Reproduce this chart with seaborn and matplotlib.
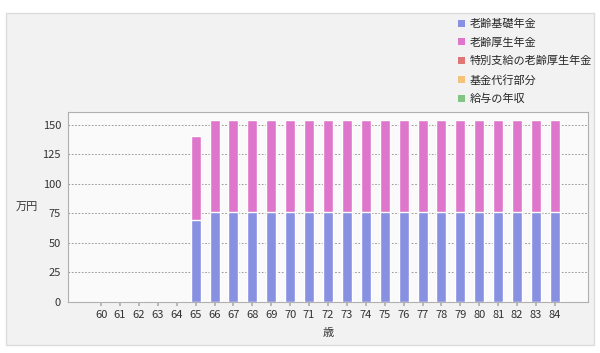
import pandas as pd
import seaborn as sns
import matplotlib.pyplot as plt
from matplotlib.patches import Rectangle, Patch

ages = [str(a) for a in range(60, 85)]
kiso = [0, 0, 0, 0, 0, 69.6] + [76.0] * 19
kosei = [0, 0, 0, 0, 0, 71.0] + [77.8] * 19
tokubetsu = [0] * 25
kikin = [0] * 25
kyuyo = [0] * 25

series_names = ["老齢基礎年金", "老齢厚生年金", "特別支給の老齢厚生年金", "基金代行部分", "給与の年収"]
colors = ["#8890e2", "#de77cc", "#e07575", "#f5c27a", "#82c482"]

df = pd.DataFrame({"age": ages, "kiso": kiso, "kosei": kosei})
df["total"] = df["kiso"] + df["kosei"]

sns.set_theme(style="white")
plt.rcParams['font.family'] = ['Noto Sans CJK JP', 'DejaVu Sans']

fig = plt.figure(figsize=(6, 3.53), dpi=100)
fig.patch.set_facecolor("white")
fig.patches.append(Rectangle((6 / 600, 8 / 353), 588 / 600, 332 / 353, transform=fig.transFigure,
                             facecolor="#f2f2f2", edgecolor="#dcdcdc", lw=1, zorder=-10))

ax = fig.add_axes([68 / 600, 51.3 / 353, 520 / 600, 189.7 / 353])
ax.set_zorder(1)
ax.set_facecolor("#fafafa")

sns.barplot(data=df, x="age", y="total", order=ages, color=colors[1], width=0.53,
            saturation=1, ax=ax, zorder=3)
sns.barplot(data=df, x="age", y="kiso", order=ages, color=colors[0], width=0.53,
            saturation=1, ax=ax, zorder=4)

ax.set_xlim(-1.75, 25.75)
ax.set_ylim(0, 161)
ax.set_yticks([0, 25, 50, 75, 100, 125, 150])
ax.yaxis.grid(True, color="#888888", linestyle=(0, (2, 2)), lw=0.6, zorder=1)
ax.set_axisbelow(True)
for s in ax.spines.values():
    s.set_color("#b0b0b0")
    s.set_linewidth(0.8)
ax.tick_params(axis="x", length=3, color="#b0b0b0", labelsize=8, labelcolor="#333333", pad=3, bottom=True)
ax.tick_params(axis="y", length=0, labelsize=8, labelcolor="#333333", pad=5)

ax.set_ylabel("万円", rotation=0, fontsize=8, color="#333333", va="center")
ax.yaxis.set_label_coords(-0.079, 0.5)
ax.set_xlabel("歳", fontsize=8, color="#333333", va="center")
ax.xaxis.set_label_coords(0.5, -0.165)

handles = [Patch(facecolor=c, edgecolor="none") for c in colors]
fig.legend(handles, series_names, loc="upper left", bbox_to_anchor=(454 / 600, 1 - 14 / 353),
           frameon=False, fontsize=8, handlelength=0.6, handleheight=0.6, handletextpad=0.4,
           labelspacing=0.75, borderaxespad=0)

fig.savefig("out.png", dpi=100)
